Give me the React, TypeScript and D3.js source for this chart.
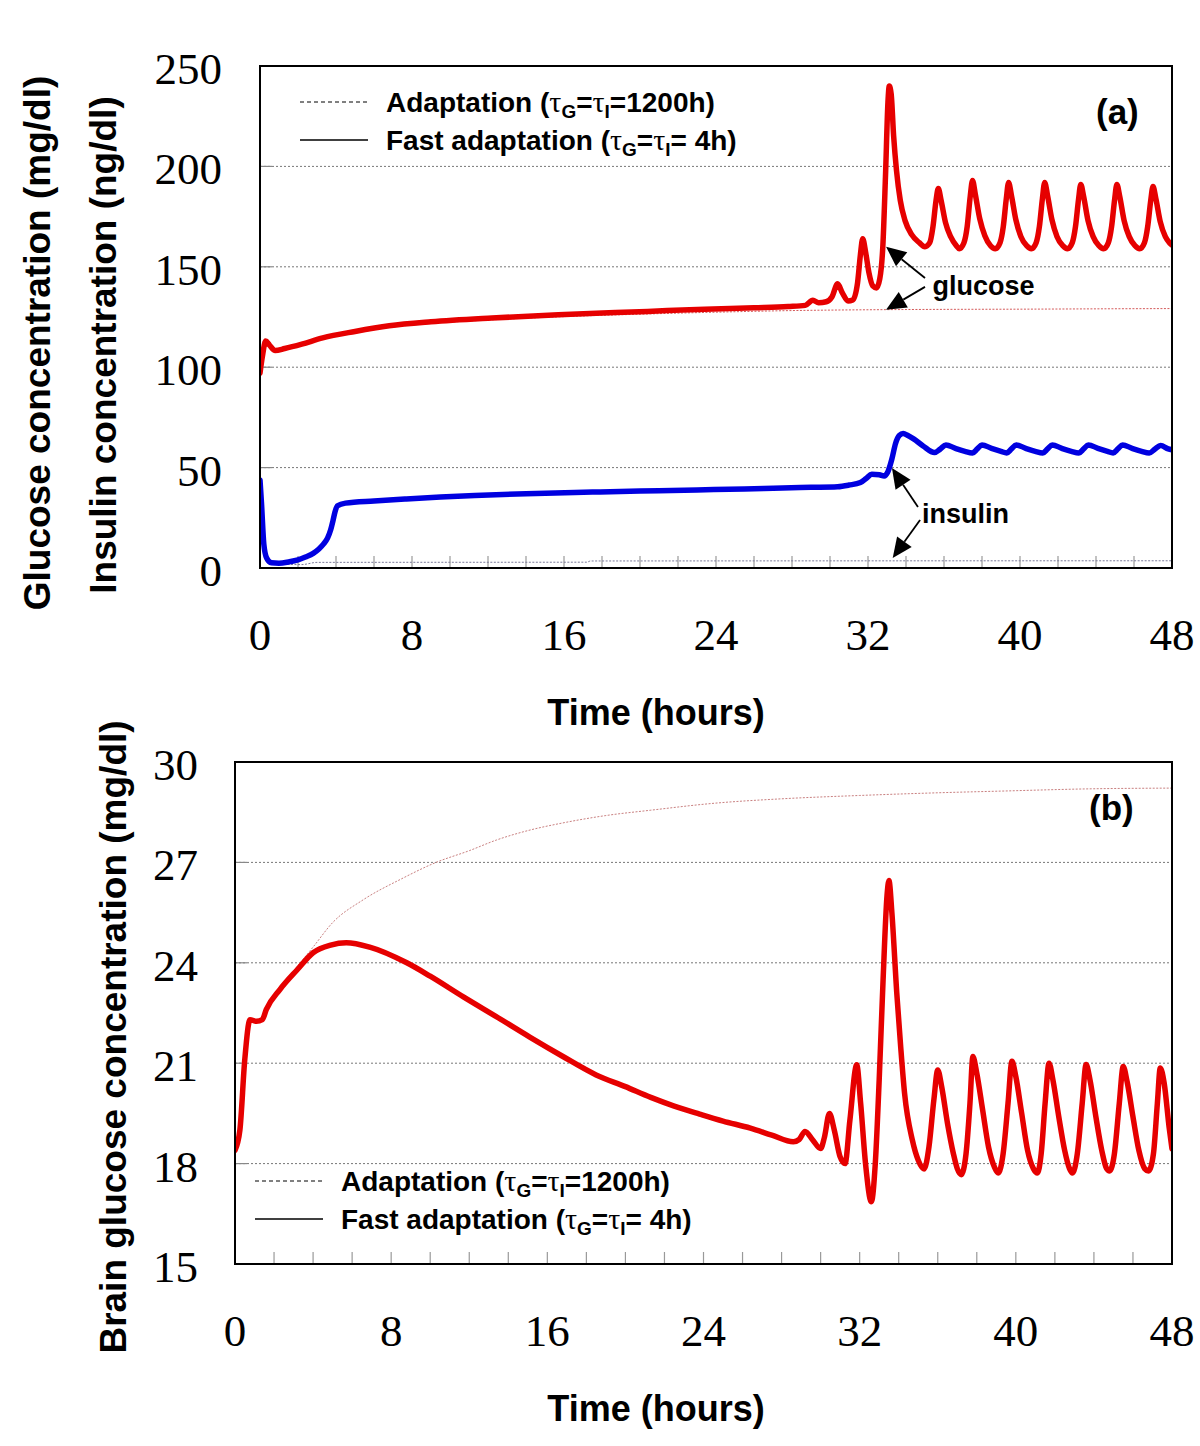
import React from "react";
import * as d3 from "d3";

type P = [number, number];

const X_TICKS = [0, 8, 16, 24, 32, 40, 48];
const X_MINOR = [2, 4, 6, 8, 10, 12, 14, 16, 18, 20, 22, 24, 26, 28, 30, 32, 34, 36, 38, 40, 42, 44, 46];
const GLU_TICKS = [0, 50, 100, 150, 200, 250];
const BRAIN_TICKS = [15, 18, 21, 24, 27, 30];

const glucoseFast: P[] = [
  [0, 97], [0.12, 105], [0.3, 113], [0.5, 111], [0.8, 108.3], [1.3, 109.3], [2.2, 111.5], [3.3, 114.6], [5, 117.8],
  [6.8, 120.6], [9, 122.6], [12.2, 124.5], [15.7, 126.1], [20.4, 127.8], [23.4, 128.9], [26, 129.6], [27.8, 130.2],
  [28.7, 130.8], [29.1, 133.3], [29.4, 132.1], [29.8, 132.6], [30.1, 135], [30.4, 141.5], [30.65, 137], [30.95, 133],
  [31.2, 133.5], [31.45, 142], [31.6, 156], [31.72, 164], [31.88, 157], [32.05, 147], [32.25, 140.5], [32.45, 139.5],
  [32.62, 144], [32.78, 160], [32.92, 195], [33.05, 232], [33.12, 240], [33.22, 236], [33.35, 215], [33.5, 198],
  [33.7, 183], [33.95, 173], [34.3, 166], [34.7, 162], [35.0, 160],
  [35.25, 162], [35.42, 170], [35.58, 183], [35.7, 189], [35.85, 183], [36.08, 172], [36.35, 165], [36.65, 160.5], [36.8, 159],
  [37.05, 162], [37.22, 170], [37.38, 185], [37.5, 193], [37.65, 186], [37.88, 174], [38.15, 165.5], [38.45, 160.5], [38.7, 159],
  [38.95, 162], [39.12, 170], [39.28, 184], [39.4, 192], [39.55, 185.5], [39.78, 173.5], [40.05, 165], [40.35, 160.5], [40.6, 159],
  [40.85, 162], [41.02, 170], [41.18, 184], [41.3, 192], [41.45, 185.5], [41.68, 173.5], [41.95, 165], [42.25, 160.5], [42.5, 159],
  [42.75, 162], [42.92, 170], [43.08, 183.5], [43.2, 191], [43.35, 185], [43.58, 173], [43.85, 165], [44.15, 160.5], [44.4, 159],
  [44.65, 162], [44.82, 170], [44.98, 183.5], [45.1, 191], [45.25, 185], [45.48, 173], [45.75, 165], [46.05, 160.5], [46.3, 159],
  [46.55, 162], [46.72, 170], [46.88, 183], [47.0, 190], [47.15, 184], [47.38, 172.5], [47.65, 165], [47.88, 161.8], [48, 160.8],
];

const glucoseAdapt: P[] = [
  [0, 97], [0.12, 105], [0.3, 113], [0.5, 111], [0.8, 108.3], [1.3, 109.3], [2.2, 111.2], [3.3, 114], [5, 117],
  [6.8, 119.8], [9, 121.8], [12, 123.5], [16, 125.2], [20, 126.4], [24, 127.4], [28, 128.2], [32, 128.6], [36, 128.8],
  [40, 128.9], [45, 129.1], [48, 129.2],
];

const insulinFast: P[] = [
  [0, 43.8], [0.08, 32], [0.2, 12], [0.35, 5], [0.6, 2.6], [1.0, 2.4], [1.5, 3], [2.0, 4], [2.4, 5.5], [2.8, 7.3],
  [3.1, 9.5], [3.35, 12], [3.56, 15], [3.72, 19], [3.84, 23.5], [3.95, 28], [4.08, 31], [4.5, 32.3], [6, 33.4],
  [7.7, 34.4], [9.5, 35.3], [11.3, 36.1], [14, 37], [17.5, 37.8], [20, 38.3], [23, 38.9], [25.5, 39.3], [27.5, 39.9],
  [29, 40.2], [30.4, 40.5], [31, 41.3], [31.6, 42.6], [31.9, 44.6], [32.2, 46.7], [32.6, 46.4], [32.85, 45.8],
  [33.05, 48], [33.25, 54], [33.45, 62], [33.65, 66], [33.85, 67], [34.1, 66], [34.4, 64.3], [34.9, 60.8], [35.5, 57.5],
  [35.8, 59.2], [36.1, 61.3], [36.6, 59.6], [37.1, 58.1], [37.5, 57.3], [37.75, 59.3], [38.0, 61.3], [38.5, 59.6],
  [39.0, 58.1], [39.3, 57.3], [39.55, 59.3], [39.8, 61.3], [40.3, 59.6], [40.8, 58.1], [41.2, 57.3], [41.45, 59.3],
  [41.7, 61.3], [42.2, 59.6], [42.7, 58.1], [43.1, 57.3], [43.35, 59.3], [43.6, 61.3], [44.1, 59.6], [44.6, 58.1],
  [44.9, 57.3], [45.15, 59.3], [45.4, 61.3], [45.9, 59.6], [46.4, 58.1], [46.8, 57.3], [47.1, 59.2], [47.4, 61],
  [47.8, 59.3], [48, 58.8],
];

const insulinAdapt: P[] = [
  [0, 43.8], [0.08, 32], [0.2, 12], [0.35, 5], [0.6, 2.6], [1.2, 1.9], [2.2, 1.7], [3.0, 2.8], [17.2, 2.9],
  [17.4, 3.5], [48, 3.6],
];

const brainFast: P[] = [
  [0, 18.4], [0.25, 19.0], [0.5, 21.1], [0.77, 22.3], [1.1, 22.25], [1.4, 22.3], [1.6, 22.6], [2.3, 23.2], [3.2, 23.8],
  [4.0, 24.3], [4.9, 24.53], [5.7, 24.6], [6.9, 24.47], [8.8, 24.0], [10, 23.6], [11.7, 22.98], [13.5, 22.35],
  [15.1, 21.78], [16.8, 21.2], [18.5, 20.65], [20, 20.3], [21.3, 19.98], [22.5, 19.72], [23.8, 19.48], [25, 19.27],
  [26.4, 19.06], [27.5, 18.85], [28.6, 18.65], [28.9, 18.72], [29.2, 18.96], [29.6, 18.7], [30.0, 18.45], [30.2, 18.8],
  [30.45, 19.5], [30.7, 19.0], [31.0, 18.2], [31.25, 18.0], [31.5, 19.3], [31.85, 20.95], [32.05, 19.8], [32.3, 18.0],
  [32.6, 16.86], [32.8, 18.0], [33.0, 20.5], [33.2, 23.5], [33.4, 26.0], [33.5, 26.46], [33.65, 25.5], [33.9, 23.1],
  [34.1, 21.5], [34.3, 20.1], [34.7, 18.7], [35.0, 18.1], [35.3, 17.84],
  [35.55, 18.5], [35.8, 19.9], [36.0, 20.8], [36.2, 20.3], [36.5, 19.2], [36.8, 18.3], [37.0, 17.85], [37.2, 17.67],
  [37.45, 18.3], [37.65, 19.8], [37.8, 21.2], [38.0, 20.7], [38.3, 19.6], [38.6, 18.5], [38.9, 17.9], [39.1, 17.72],
  [39.35, 18.3], [39.6, 19.8], [39.8, 21.06], [40.0, 20.6], [40.3, 19.5], [40.6, 18.4], [40.9, 17.85], [41.1, 17.72],
  [41.3, 18.3], [41.5, 19.8], [41.7, 21.0], [41.9, 20.5], [42.2, 19.4], [42.5, 18.4], [42.75, 17.85], [42.9, 17.72],
  [43.15, 18.3], [43.4, 19.8], [43.6, 20.96], [43.8, 20.5], [44.1, 19.4], [44.4, 18.4], [44.65, 17.85], [44.8, 17.78],
  [45.05, 18.3], [45.3, 19.8], [45.5, 20.9], [45.7, 20.45], [46.0, 19.4], [46.3, 18.4], [46.6, 17.85], [46.8, 17.78],
  [47.05, 18.3], [47.25, 19.8], [47.4, 20.86], [47.6, 20.4], [47.85, 19.1], [48.0, 18.44],
];

const brainAdapt: P[] = [
  [0, 18.4], [0.25, 19.0], [0.5, 21.1], [0.77, 22.3], [1.4, 22.3], [1.6, 22.6], [2.3, 23.25], [3.2, 23.9], [4.0, 24.47],
  [5.0, 25.2], [6.56, 25.88], [8.5, 26.5], [10.3, 27.0], [12, 27.35], [13.4, 27.67], [15, 27.95], [16.8, 28.18],
  [19, 28.4], [21.3, 28.56], [24.6, 28.77], [28, 28.9], [32, 29.0], [36, 29.08], [39.2, 29.13], [44, 29.2], [48, 29.22],
];

// annotation anchors in data coordinates: [tipT, tipV, tailT, tailV]
const glucoseArrows: [number, number, number, number][] = [
  [32.95, 160, 35.0, 144.4],
  [32.95, 128.6, 35.0, 140],
];
const insulinArrows: [number, number, number, number][] = [
  [33.26, 49.8, 34.63, 30.4],
  [33.3, 5.0, 34.74, 23.9],
];

const RED = "#e60000";
const BLUE = "#0000e0";
const SANS = "Liberation Sans, Arial, sans-serif";
const SERIF = "Liberation Serif, Times New Roman, serif";

function TauText({ x, y, lead, tail }: { x: number; y: number; lead: string; tail: string }) {
  return (
    <text x={x} y={y} fontFamily={SANS} fontWeight="bold" fontSize={28} fill="#000">
      {lead}
      <tspan fontFamily={SERIF} fontWeight="normal" fontSize={30}>τ</tspan>
      <tspan fontSize={19} dy={6}>G</tspan>
      <tspan dy={-6}>=</tspan>
      <tspan fontFamily={SERIF} fontWeight="normal" fontSize={30}>τ</tspan>
      <tspan fontSize={19} dy={6}>I</tspan>
      <tspan dy={-6}>{tail}</tspan>
    </text>
  );
}

function Legend({ x, y }: { x: number; y: number }) {
  return (
    <g>
      <line x1={x} x2={x + 68} y1={y} y2={y} stroke="#000" strokeWidth={1} strokeDasharray="4,3" />
      <TauText x={x + 86} y={y + 10} lead="Adaptation (" tail="=1200h)" />
      <line x1={x} x2={x + 68} y1={y + 38} y2={y + 38} stroke="#000" strokeWidth={1.3} />
      <TauText x={x + 86} y={y + 48} lead="Fast adaptation (" tail="= 4h)" />
    </g>
  );
}

function Arrow({ x1, y1, x2, y2 }: { x1: number; y1: number; x2: number; y2: number }) {
  const ang = Math.atan2(y2 - y1, x2 - x1);
  const L = 20, W = 9;
  const bx = x2 - L * Math.cos(ang), by = y2 - L * Math.sin(ang);
  const px = -Math.sin(ang) * W, py = Math.cos(ang) * W;
  return (
    <g>
      <line x1={x1} y1={y1} x2={bx} y2={by} stroke="#000" strokeWidth={1.8} />
      <polygon points={`${x2},${y2} ${bx + px},${by + py} ${bx - px},${by - py}`} fill="#000" />
    </g>
  );
}

function Panel(props: {
  id: string;
  left: number; right: number; top: number; bottom: number;
  yDomain: [number, number]; yTicks: number[];
  labelRight: number;
  children: (x: d3.ScaleLinear<number, number>, y: d3.ScaleLinear<number, number>) => React.ReactNode;
}) {
  const { id, left, right, top, bottom, yDomain, yTicks, labelRight } = props;
  const x = d3.scaleLinear().domain([0, 48]).range([left, right]);
  const y = d3.scaleLinear().domain(yDomain).range([bottom, top]);
  return (
    <g>
      <defs>
        <clipPath id={id}>
          <rect x={left} y={top} width={right - left} height={bottom - top} />
        </clipPath>
      </defs>
      {yTicks.slice(1, -1).map((t) => (
        <g key={t}>
          <line x1={left} x2={right} y1={y(t)} y2={y(t)} stroke="#777" strokeWidth={1} strokeDasharray="2,2" />
          <line x1={left} x2={left + 12} y1={y(t)} y2={y(t)} stroke="#888" strokeWidth={1.2} />
        </g>
      ))}
      {X_MINOR.map((t) => (
        <line key={t} x1={x(t)} x2={x(t)} y1={bottom - 12} y2={bottom} stroke="#999" strokeWidth={1.2} />
      ))}
      <g clipPath={`url(#${id})`}>{props.children(x, y)}</g>
      <rect x={left} y={top} width={right - left} height={bottom - top} fill="none" stroke="#000" strokeWidth={2} />
      {yTicks.map((t) => (
        <text key={t} x={labelRight} y={y(t) + 18} textAnchor="end" fontFamily={SERIF} fontSize={45} fill="#000">
          {t}
        </text>
      ))}
      {X_TICKS.map((t) => (
        <text key={t} x={x(t)} y={bottom + 82} textAnchor="middle" fontFamily={SERIF} fontSize={45} fill="#000">
          {t}
        </text>
      ))}
    </g>
  );
}

export default function App() {
  const mkLine = (x: any, y: any) =>
    d3.line<P>().x((d) => x(d[0])).y((d) => y(d[1])).curve(d3.curveMonotoneX);

  return (
    <svg width={1200} height={1446} style={{ position: "absolute", left: 0, top: 0, background: "#fff" }}>
      <rect x={0} y={0} width={1200} height={1446} fill="#fff" />
      <Panel id="clipA" left={260} right={1172} top={66} bottom={568} yDomain={[0, 250]} yTicks={GLU_TICKS} labelRight={222}>
        {(x, y) => {
          const line = mkLine(x, y);
          return (
            <g>
              <path d={line(glucoseAdapt) || ""} fill="none" stroke="#d45a5a" strokeWidth={1} strokeDasharray="2,1.5" />
              <path d={line(insulinAdapt) || ""} fill="none" stroke="#7a7a9a" strokeWidth={1} strokeDasharray="2,1.5" />
              <path d={line(glucoseFast) || ""} fill="none" stroke={RED} strokeWidth={5.5} strokeLinejoin="round" strokeLinecap="round" />
              <path d={line(insulinFast) || ""} fill="none" stroke={BLUE} strokeWidth={5.5} strokeLinejoin="round" strokeLinecap="round" />
            </g>
          );
        }}
      </Panel>
      {(() => {
        const x = d3.scaleLinear().domain([0, 48]).range([260, 1172]);
        const y = d3.scaleLinear().domain([0, 250]).range([568, 66]);
        return (
          <g>
            {glucoseArrows.map((a, i) => (
              <Arrow key={"g" + i} x1={x(a[2])} y1={y(a[3])} x2={x(a[0])} y2={y(a[1])} />
            ))}
            {insulinArrows.map((a, i) => (
              <Arrow key={"i" + i} x1={x(a[2])} y1={y(a[3])} x2={x(a[0])} y2={y(a[1])} />
            ))}
            <text x={x(35.4)} y={y(141) + 10} fontFamily={SANS} fontWeight="bold" fontSize={27}>glucose</text>
            <text x={x(34.84)} y={y(27.4) + 10} fontFamily={SANS} fontWeight="bold" fontSize={27}>insulin</text>
          </g>
        );
      })()}
      <Legend x={300} y={102} />
      <text x={1096} y={124} fontFamily={SANS} fontWeight="bold" fontSize={35}>(a)</text>
      <text x={656} y={725} textAnchor="middle" fontFamily={SANS} fontWeight="bold" fontSize={36}>Time (hours)</text>
      <text transform="translate(50,343) rotate(-90)" textAnchor="middle" fontFamily={SANS} fontWeight="bold" fontSize={37}>
        Glucose concentration (mg/dl)
      </text>
      <text transform="translate(116,345) rotate(-90)" textAnchor="middle" fontFamily={SANS} fontWeight="bold" fontSize={37}>
        Insulin concentration (ng/dl)
      </text>

      <Panel id="clipB" left={235} right={1172} top={762} bottom={1264} yDomain={[15, 30]} yTicks={BRAIN_TICKS} labelRight={198}>
        {(x, y) => {
          const line = mkLine(x, y);
          return (
            <g>
              <path d={line(brainAdapt) || ""} fill="none" stroke="#c98080" strokeWidth={1} strokeDasharray="2,1.5" />
              <path d={line(brainFast) || ""} fill="none" stroke={RED} strokeWidth={5.5} strokeLinejoin="round" strokeLinecap="round" />
            </g>
          );
        }}
      </Panel>
      <Legend x={255} y={1181} />
      <text x={1089} y={820} fontFamily={SANS} fontWeight="bold" fontSize={35}>(b)</text>
      <text x={656} y={1421} textAnchor="middle" fontFamily={SANS} fontWeight="bold" fontSize={36}>Time (hours)</text>
      <text transform="translate(126,1037) rotate(-90)" textAnchor="middle" fontFamily={SANS} fontWeight="bold" fontSize={37}>
        Brain glucose concentration (mg/dl)
      </text>
    </svg>
  );
}
